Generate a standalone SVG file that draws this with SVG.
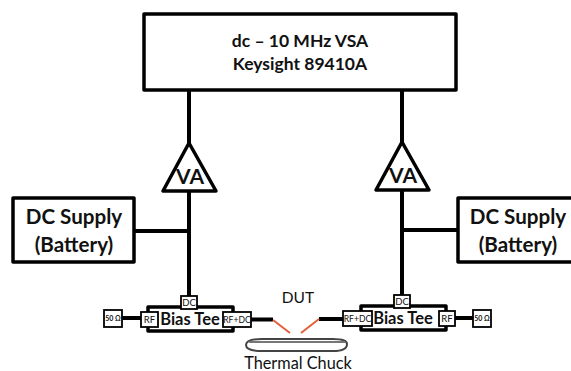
<svg xmlns="http://www.w3.org/2000/svg" width="571" height="371" viewBox="0 0 571 371">
<style>
text{font-family:"Lato","Open Sans",sans-serif;fill:#111;text-anchor:middle}
.big{font-size:20.6px;font-weight:700}
.va{font-size:21px;font-weight:700}
.top{font-size:17.5px;font-weight:700}
.mid{font-size:16.5px;font-weight:700}
.box{fill:#fff;stroke:#000;stroke-width:3.5;stroke-linejoin:round}
.tee{fill:#fff;stroke:#000;stroke-width:3.5;stroke-linejoin:round}
.port{fill:#fff;stroke:#000;stroke-width:1.8}
.p{font-size:9.500px}
.n{font-size:8.600px}
.o{font-size:7px;font-weight:700}
.w{fill:none;stroke:#000;stroke-width:4}
.r{fill:none;stroke:#e2603a;stroke-width:2}
</style>
<g id="connectors">
<path class="w" d="M189 90V296M402 90V296M134 231H189M457 230H402"/>
<path class="w" d="M122 318H141M251 319.500H273M319 319H343M454 318H473"/>
<path class="r" d="M273 320L290 333M301 333L319 319"/>
</g>
<g id="vsa"><rect class="box" x="144" y="14" width="312" height="76"/>
<text class="top" x="300" y="47">dc – 10 MHz VSA</text><text class="top" x="300" y="70">Keysight 89410A</text></g>
<g id="va-left"><path class="box" d="M189 143L163 191H216Z"/><text class="va" x="190" y="184">VA</text></g>
<g id="va-right"><path class="box" d="M402 142L376 190H429Z"/><text class="va" x="403" y="183">VA</text></g>
<g id="dc-left"><rect class="box" x="13" y="198" width="121" height="64"/>
<text class="big" x="74" y="224">DC Supply</text><text class="big" x="74" y="252">(Battery)</text></g>
<g id="dc-right"><rect class="box" x="458" y="198" width="120" height="64"/>
<text class="big" x="518" y="224">DC Supply</text><text class="big" x="518" y="252">(Battery)</text></g>
<g id="tee-left"><rect class="tee" x="148" y="307" width="85" height="24"/><text class="mid" x="190" y="325">Bias Tee</text>
<rect class="port" x="181" y="296" width="16" height="13"/><text class="p" x="189" y="306">DC</text>
<rect class="port" x="141" y="312" width="17" height="15"/><text class="p" x="149.500" y="323">RF</text>
<rect class="port" x="223" y="312" width="28" height="15"/><text class="n" x="237" y="323">RF+DC</text></g>
<g id="tee-right"><rect class="tee" x="361" y="306" width="85" height="24"/><text class="mid" x="403" y="324">Bias Tee</text>
<rect class="port" x="394" y="295" width="16" height="13"/><text class="p" x="402" y="305">DC</text>
<rect class="port" x="343" y="311" width="29" height="15"/><text class="n" x="357.500" y="322">RF+DC</text>
<rect class="port" x="439" y="311" width="16" height="15"/><text class="p" x="447" y="322">RF</text></g>
<g id="load-left"><rect class="port" x="104" y="310" width="18" height="17"/><text class="o" x="113" y="321">50 Ω</text></g>
<g id="load-right"><rect class="port" x="473" y="310" width="18" height="17"/><text class="o" x="482" y="321">50 Ω</text></g>
<g id="dut"><text x="298" y="303" font-size="15.500">DUT</text></g>
<g id="chuck"><path d="M246 345Q246 339 262 339H333Q347 339 347 344Q347 351 333 351H262Q246 351 246 345Z" fill="#fff" stroke="#444" stroke-width="2"/><path d="M249 342H345" stroke="#777" stroke-width="2"/>
<text x="298" y="369" font-size="16.300">Thermal Chuck</text></g>
</svg>
